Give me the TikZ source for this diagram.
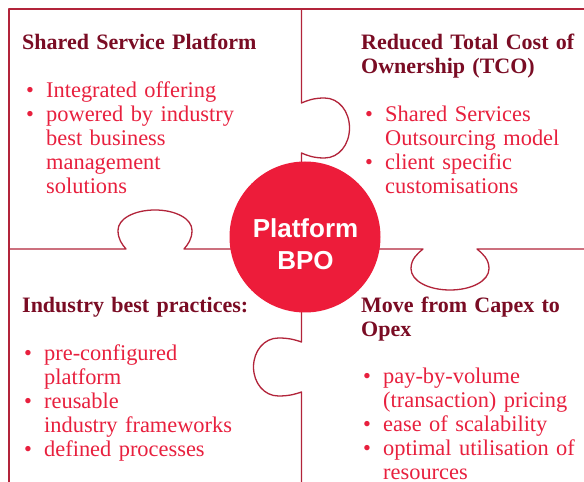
\documentclass[tikz,border=0pt]{standalone}
\usepackage{fontspec}
\setmainfont{Liberation Serif}
\newfontfamily\ctrfont{Liberation Sans}
\definecolor{linecol}{RGB}{178,36,58}
\definecolor{circcol}{RGB}{237,28,58}
\definecolor{headcol}{RGB}{122,12,36}
\definecolor{bodycol}{RGB}{232,32,62}
% horizontal tab: cx, y0, neck half, bulb half, depth, sign
\newcommand\htab[6]{%
 -- ({#1-#3},{#2})
 .. controls ({#1-(#3+#4)/2},{#2+(#6)*0.12*#5}) and ({#1-#4},{#2+(#6)*0.25*#5}) .. ({#1-#4},{#2+(#6)*0.48*#5})
 .. controls ({#1-#4},{#2+(#6)*0.78*#5}) and ({#1-0.55*#4},{#2+(#6)*#5}) .. ({#1},{#2+(#6)*#5})
 .. controls ({#1+0.55*#4},{#2+(#6)*#5}) and ({#1+#4},{#2+(#6)*0.78*#5}) .. ({#1+#4},{#2+(#6)*0.48*#5})
 .. controls ({#1+#4},{#2+(#6)*0.25*#5}) and ({#1+(#3+#4)/2},{#2+(#6)*0.12*#5}) .. ({#1+#3},{#2})}
% vertical tab: x0, cy, neck half, bulb half, depth, sign
\newcommand\vtab[6]{%
 -- ({#1},{#2+#3})
 .. controls ({#1+(#6)*0.12*#5},{#2+(#3+#4)/2}) and ({#1+(#6)*0.25*#5},{#2+#4}) .. ({#1+(#6)*0.48*#5},{#2+#4})
 .. controls ({#1+(#6)*0.78*#5},{#2+#4}) and ({#1+(#6)*#5},{#2+0.55*#4}) .. ({#1+(#6)*#5},{#2})
 .. controls ({#1+(#6)*#5},{#2-0.55*#4}) and ({#1+(#6)*0.78*#5},{#2-#4}) .. ({#1+(#6)*0.48*#5},{#2-#4})
 .. controls ({#1+(#6)*0.25*#5},{#2-#4}) and ({#1+(#6)*0.12*#5},{#2-(#3+#4)/2}) .. ({#1},{#2-#3})}
\newcommand\bul{\makebox[20pt][l]{\textbullet}}
\newcommand\ind{\hspace*{20pt}}
\begin{document}
\begin{tikzpicture}[x=1pt,y=1pt,
  puzzle/.style={draw=linecol, line width=1.3pt, line join=round},
  head/.style={anchor=base west, inner sep=0pt, text=headcol, font=\fontsize{22}{24}\selectfont\bfseries, text width=240pt, align=left},
  body/.style={anchor=base west, inner sep=0pt, text=bodycol, font=\fontsize{22.4}{24}\selectfont, text width=240pt, align=left},
  hub/.style={circle, fill=circcol, minimum size=151pt, inner sep=0pt},
  hubtext/.style={anchor=base, inner sep=0pt, text=white, font=\ctrfont\fontsize{26}{32}\selectfont\bfseries, text width=150pt, align=center}
]
\useasboundingbox (0,0) rectangle (584,482);
\fill[white] (0,0) rectangle (584,482);
% puzzle lines
\draw[puzzle] (584,473) -- (9,473) -- (9,0);
\draw[puzzle] (9,233) \htab{155}{233}{29}{37}{39}{1} \htab{450}{233}{27}{39}{41}{-1} -- (584,233);
\draw[puzzle] (301.5,473) \vtab{301.5}{354}{25}{30}{48}{1} \vtab{301.5}{115}{25}{29}{48}{-1} -- (301.5,0);
% hub
\node[hub] (hub) at (305,245) {};
\node[hubtext] (hubt) at (305.5,244) {Platform\\BPO};
% top-left
\node[head] (h1) at (22,432) {Shared Service Platform};
\node[body] (b1) at (26,384) {\bul Integrated offering\\\bul powered by industry\\\ind best business\\\ind management\\\ind solutions};
% top-right
\node[head] (h2) at (361,432) {Reduced Total Cost of\\Ownership (TCO)};
\node[body] (b2) at (365,360) {\bul Shared Services\\\ind Outsourcing model\\\bul client specific\\\ind customisations};
% bottom-left
\node[head] (h3) at (22,169) {Industry best practices:};
\node[body] (b3) at (24,121) {\bul pre-configured\\\ind platform\\\bul reusable\\\ind industry frameworks\\\bul defined processes};
% bottom-right
\node[head] (h4) at (361,169) {Move from Capex to\\Opex};
\node[body] (b4) at (363,98) {\bul pay-by-volume\\\ind (transaction) pricing\\\bul ease of scalability\\\bul optimal utilisation of\\\ind resources};
\end{tikzpicture}
\end{document}
